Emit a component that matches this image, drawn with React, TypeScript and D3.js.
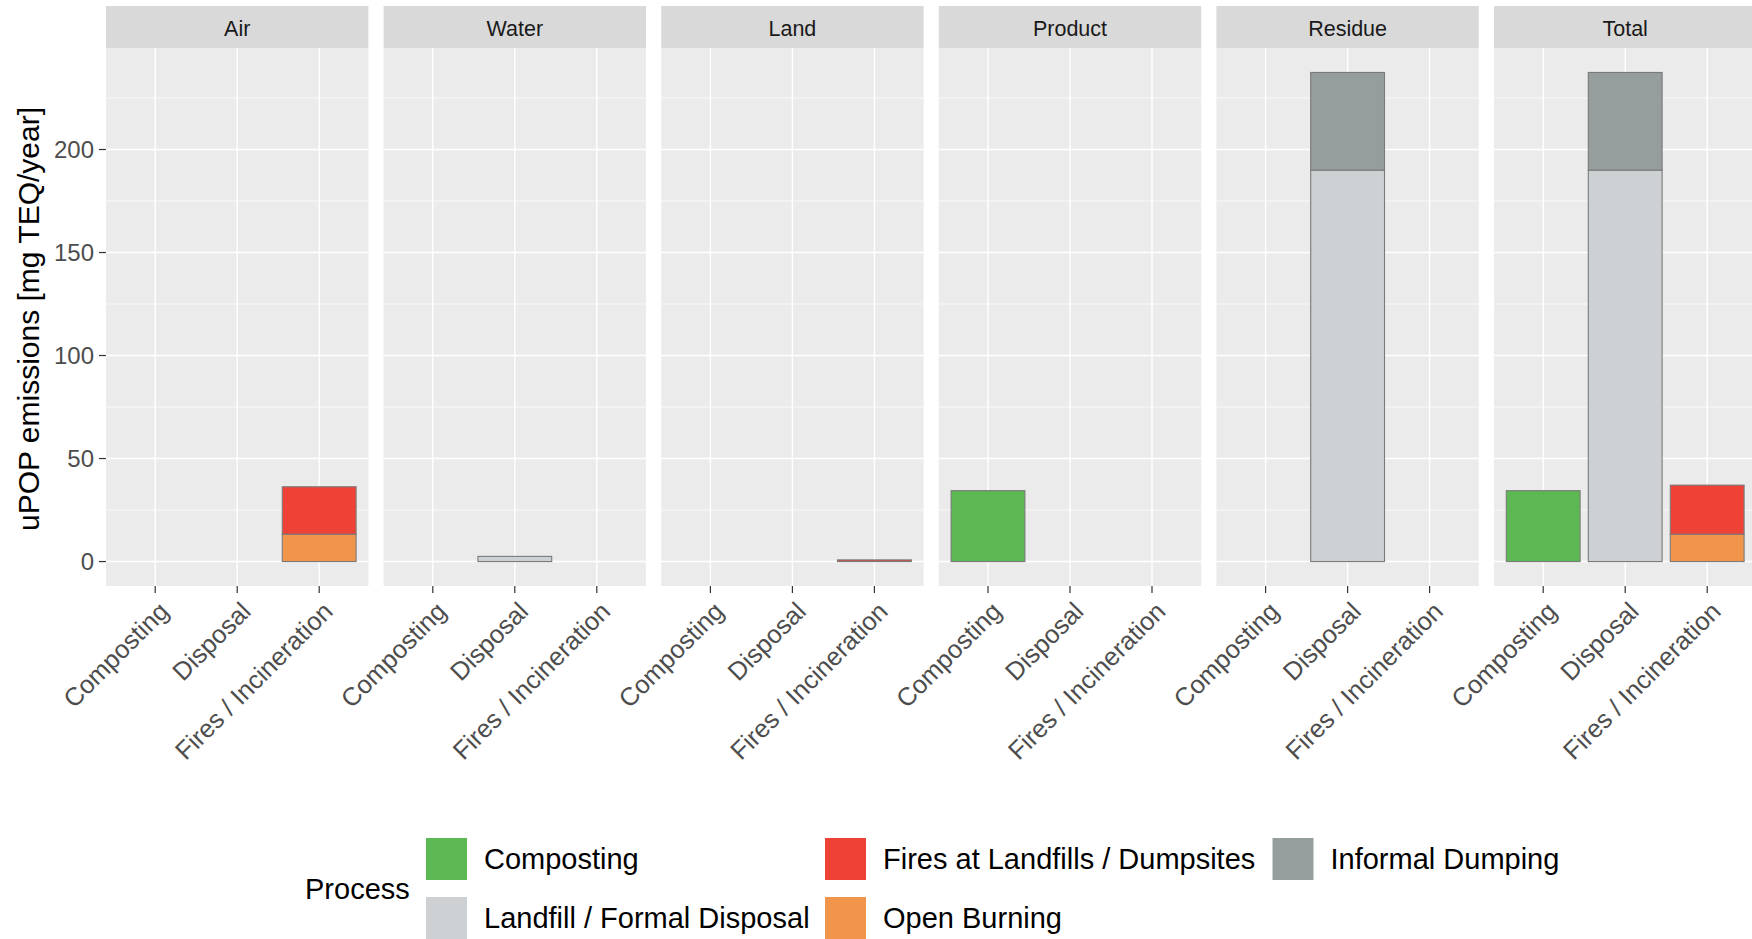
import React from "react";
import * as d3 from "d3";

const facets = ["Air", "Water", "Land", "Product", "Residue", "Total"];
const categories = ["Composting", "Disposal", "Fires / Incineration"];
// processes in factor (alphabetical) order; stacking puts later levels at bottom
const processes = [
  "Composting",
  "Fires at Landfills / Dumpsites",
  "Informal Dumping",
  "Landfill / Formal Disposal",
  "Open Burning",
];
const processColors = ["#5cb852", "#ee4236", "#959d9d", "#cdd1d4", "#f0954a"];

// values [facet][category] in mg TEQ/year
const compostingValues = [[0, 0, 0], [0, 0, 0], [0, 0, 0], [34.4, 0, 0], [0, 0, 0], [34.4, 0, 0]];
const firesValues = [[0, 0, 23.0], [0, 0, 0], [0, 0, 0.8], [0, 0, 0], [0, 0, 0], [0, 0, 23.8]];
const informalValues = [[0, 0, 0], [0, 0, 0], [0, 0, 0], [0, 0, 0], [0, 47.4, 0], [0, 47.4, 0]];
const landfillValues = [[0, 0, 0], [0, 2.5, 0], [0, 0, 0], [0, 0, 0], [0, 190, 0], [0, 190, 0]];
const openBurningValues = [[0, 0, 13.3], [0, 0, 0], [0, 0, 0], [0, 0, 0], [0, 0, 0], [0, 0, 13.3]];
const seriesValues = [compostingValues, firesValues, informalValues, landfillValues, openBurningValues];

const yTicks = [0, 50, 100, 150, 200];
const yMinor = [25, 75, 125, 175, 225];

const W = 1752;
const H = 939;
const FONT = "'Liberation Sans', Arial, sans-serif";

export default function App() {
  const panelLeft0 = 106;
  const panelStep = 277.6;
  const panelW = 262.4;
  const panelTop = 48;
  const panelBottom = 586;
  const stripTop = 6;

  // stacked totals
  const stacks: { facet: number; cat: number; proc: number; y0: number; y1: number }[] = [];
  let maxV = 0;
  facets.forEach((_, fi) => {
    categories.forEach((_, ci) => {
      let acc = 0;
      for (let p = processes.length - 1; p >= 0; p--) {
        const v = seriesValues[p][fi][ci];
        if (v > 0) {
          stacks.push({ facet: fi, cat: ci, proc: p, y0: acc, y1: acc + v });
          acc += v;
        }
      }
      maxV = Math.max(maxV, acc);
    });
  });
  const ext = maxV * 0.05;
  const y = d3.scaleLinear().domain([-ext, maxV + ext]).range([panelBottom, panelTop]);
  const x = d3.scaleBand<string>().domain(categories).range([0, panelW]).paddingInner(0.1).paddingOuter(0.15);

  const legendColX = [426, 825, 1272.5];
  const legendRowY = [838, 897];

  return (
    <svg width={W} height={H} style={{ position: "absolute", left: 0, top: 0, background: "#fff" }} fontFamily={FONT}>
      <rect x={0} y={0} width={W} height={H} fill="#fff" />
      {facets.map((f, fi) => {
        const px = panelLeft0 + fi * panelStep;
        return (
          <g key={f} transform={`translate(${px},0)`}>
            <rect x={0} y={stripTop} width={panelW} height={panelTop - stripTop} fill="#d9d9d9" />
            <text x={panelW / 2} y={29} textAnchor="middle" dominantBaseline="central" fontSize={21.5} fill="#1a1a1a">
              {f}
            </text>
            <rect x={0} y={panelTop} width={panelW} height={panelBottom - panelTop} fill="#ebebeb" />
            {yMinor.map((t) => (
              <line key={"m" + t} x1={0} x2={panelW} y1={y(t)} y2={y(t)} stroke="#fff" strokeWidth={0.7} />
            ))}
            {yTicks.map((t) => (
              <line key={"g" + t} x1={0} x2={panelW} y1={y(t)} y2={y(t)} stroke="#fff" strokeWidth={1.4} />
            ))}
            {categories.map((c) => {
              const cx = (x(c) as number) + x.bandwidth() / 2;
              return (
                <g key={c}>
                  <line x1={cx} x2={cx} y1={panelTop} y2={panelBottom} stroke="#fff" strokeWidth={1.4} />
                  <line x1={cx} x2={cx} y1={panelBottom} y2={panelBottom + 7} stroke="#333" strokeWidth={1.2} />
                  <text
                    transform={`translate(${cx + 2},${panelBottom + 14}) rotate(-45)`}
                    textAnchor="end"
                    dy="0.72em"
                    fontSize={25.5}
                    fill="#4d4d4d"
                  >
                    {c}
                  </text>
                </g>
              );
            })}
            {stacks
              .filter((s) => s.facet === fi)
              .map((s, i) => (
                <rect
                  key={i}
                  x={x(categories[s.cat]) as number}
                  width={x.bandwidth()}
                  y={y(s.y1)}
                  height={Math.max(0, y(s.y0) - y(s.y1))}
                  fill={processColors[s.proc]}
                  stroke="#7a7a7a"
                  strokeWidth={1.1}
                />
              ))}
          </g>
        );
      })}
      {/* y axis */}
      {yTicks.map((t) => (
        <g key={t}>
          <line x1={panelLeft0 - 7} x2={panelLeft0} y1={y(t)} y2={y(t)} stroke="#333" strokeWidth={1.2} />
          <text x={panelLeft0 - 12} y={y(t)} textAnchor="end" dominantBaseline="central" fontSize={24} fill="#4d4d4d">
            {t}
          </text>
        </g>
      ))}
      <text
        transform={`translate(39,${(panelTop + panelBottom) / 2 + 2}) rotate(-90)`}
        textAnchor="middle"
        fontSize={30}
        fill="#000"
      >
        uPOP emissions [mg TEQ/year]
      </text>
      {/* legend */}
      <text x={305} y={889} dominantBaseline="central" fontSize={29} fill="#000">
        Process
      </text>
      {processes.map((p, i) => {
        const col = i % 3;
        const row = Math.floor(i / 3);
        const kx = legendColX[col];
        const ky = legendRowY[row];
        return (
          <g key={p}>
            <rect x={kx} y={ky} width={41} height={42} fill={processColors[i]} />
            <text x={kx + 58} y={ky + 21} dominantBaseline="central" fontSize={29} fill="#000">
              {p}
            </text>
          </g>
        );
      })}
    </svg>
  );
}
